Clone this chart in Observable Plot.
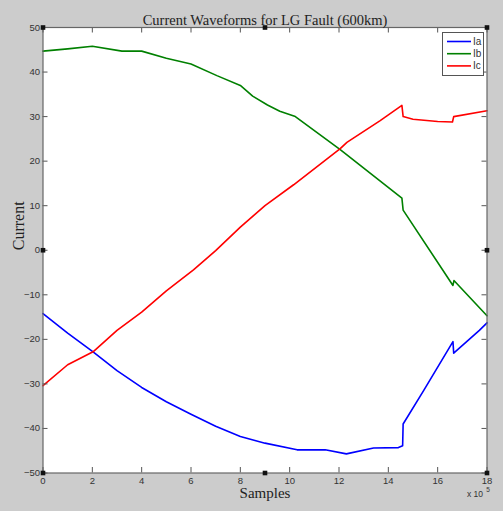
<!DOCTYPE html>
<html><head><meta charset="utf-8">
<script src="https://cdn.jsdelivr.net/npm/d3@7"></script>
<script src="https://cdn.jsdelivr.net/npm/@observablehq/plot@0.6"></script>
<style>
body{margin:0;background:#cccccc;}
#wrap{position:relative;width:503px;height:511px;overflow:hidden;}
#legend{position:absolute;left:442px;top:32px;}
</style></head><body><div id="wrap"></div>
<script>
const titleText = "Current Waveforms for LG Fault (600km)";
const xLabel = "Samples";
const yLabel = "Current";
const xTicks = [0, 2, 4, 6, 8, 10, 12, 14, 16, 18];
const yTicks = [-50, -40, -30, -20, -10, 0, 10, 20, 30, 40, 50];
const seriesNames = ["Ia", "Ib", "Ic"];
const seriesColors = ["#0000ff", "#008000", "#ff0000"];

// [sample (x 10^5), current]
const ia = [[0,-14.2],[1,-18.6],[2.03,-22.8],[3,-27],[4,-30.8],[5,-34],[6,-36.8],[7,-39.5],[8,-41.8],[9,-43.3],[10.3,-44.8],[11.44,-44.8],[12.3,-45.7],[13.4,-44.4],[14.41,-44.3],[14.58,-43.9],[14.6,-39],[15.43,-31.5],[16.62,-20.5],[16.65,-23.1],[17.69,-18],[18,-16.3]];
const ib = [[0,44.7],[1,45.2],[2,45.8],[3.2,44.7],[4,44.7],[5,43.1],[6,41.8],[7.05,39.2],[8,37],[8.5,34.6],[9.1,32.6],[9.6,31.2],[10.23,30],[12.05,22.6],[14.55,11.7],[14.6,9],[16.62,-7.9],[16.66,-6.8],[18,-14.7]];
const ic = [[0,-30.4],[1,-25.7],[2.03,-22.8],[3,-18],[4,-13.9],[5,-9.1],[6.1,-4.4],[7,-0.1],[8,5.2],[9,10],[10.16,14.7],[12.05,22.8],[12.32,24.2],[13.67,29.1],[14.55,32.5],[14.6,30],[15,29.4],[16,28.9],[16.6,28.8],[16.65,30],[18,31.3]];

const seriesData = [ia, ib, ic];
const rows = [];
seriesNames.forEach((name, i) => seriesData[i].forEach(([x, y]) => rows.push({series: name, x, y})));

const tickFont = '"Liberation Sans Narrow", "Arial Narrow", "Liberation Sans", sans-serif';
const serif = '"Liberation Serif", "DejaVu Serif", serif';
const anchors = ["top-left","top","top-right","left","right","bottom-left","bottom","bottom-right"];

const plot = Plot.plot({
  width: 503, height: 511,
  marginLeft: 42.5, marginRight: 16.5, marginTop: 27, marginBottom: 38.5,
  style: {background: "#cccccc", fontFamily: tickFont, fontSize: "9.5px", color: "#333"},
  x: {domain: [0, 18], ticks: xTicks},
  y: {domain: [-50, 50], ticks: yTicks},
  color: {domain: seriesNames, range: seriesColors},
  marks: [
    Plot.frame({fill: "white", stroke: "none"}),
    Plot.lineY(rows, {x: "x", y: "y", stroke: "series", strokeWidth: 1.6}),
    Plot.ruleX(xTicks, {insetTop: 440, stroke: "#555"}),
    Plot.ruleX(xTicks, {insetBottom: 440, stroke: "#555"}),
    Plot.ruleY(yTicks, {insetLeft: 439, stroke: "#555"}),
    Plot.ruleY(yTicks, {insetRight: 439, stroke: "#555"}),
    Plot.frame({stroke: "#666", strokeWidth: 1.2}),
    Plot.axisX({ticks: xTicks, tickSize: 0, tickPadding: 4, label: null}),
    Plot.axisY({ticks: yTicks, tickSize: 0, tickPadding: 3, label: null}),
    Plot.text([titleText], {frameAnchor: "top", dy: -13, fontFamily: serif, fontSize: 14.5, fill: "#222"}),
    Plot.text([xLabel], {frameAnchor: "bottom", dy: 24.5, fontFamily: serif, fontSize: 15, fill: "#222"}),
    Plot.text([yLabel], {frameAnchor: "left", dx: -24.5, rotate: -90, fontFamily: serif, fontSize: 16, fill: "#222"}),
    Plot.text(["x 10"], {frameAnchor: "bottom-right", dx: -4, dy: 23.5, textAnchor: "end", fontSize: 8.5, fill: "#333"}),
    Plot.text(["5"], {frameAnchor: "bottom-right", dx: 1, dy: 18.5, textAnchor: "middle", fontSize: 6.5, fill: "#333"}),
    ...anchors.map(a => Plot.dot([0], {frameAnchor: a, symbol: "square", r: 2.6, fill: "#111"}))
  ]
});
const wrap = document.getElementById("wrap");
wrap.appendChild(plot);

// legend box (inside plot, top-right)
const lg = d3.create("svg").attr("id", "legend").attr("width", 43).attr("height", 45);
lg.append("rect").attr("x", 0.5).attr("y", 0.5).attr("width", 41).attr("height", 43)
  .attr("fill", "white").attr("stroke", "#555");
seriesNames.forEach((name, i) => {
  const y = 9.5 + i * 12.2;
  lg.append("line").attr("x1", 5).attr("x2", 29).attr("y1", y).attr("y2", y)
    .attr("stroke", seriesColors[i]).attr("stroke-width", 1.6);
  lg.append("text").attr("x", 31).attr("y", y).attr("dy", "0.35em")
    .attr("font-family", tickFont).attr("font-size", 10).attr("fill", "#333").text(name);
});
wrap.appendChild(lg.node());
</script>
</body></html>
